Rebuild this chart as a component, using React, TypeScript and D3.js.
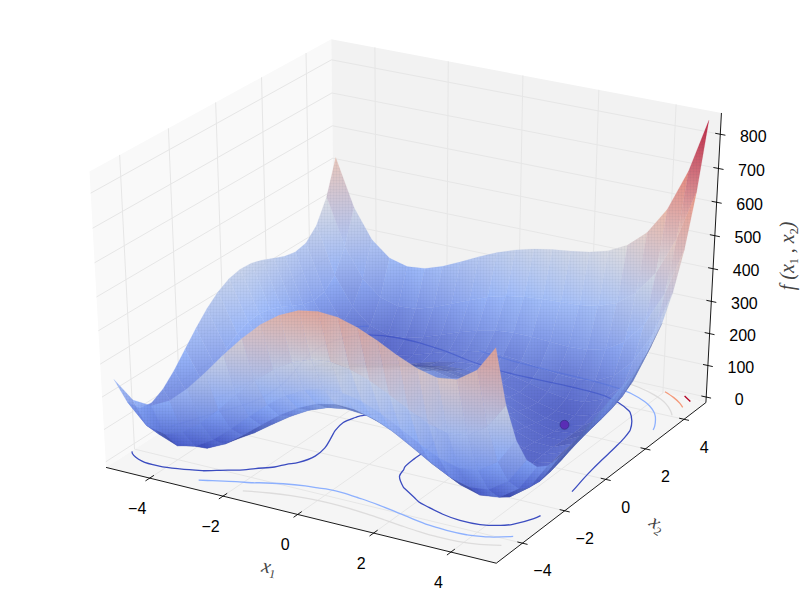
import React, { useEffect, useRef } from 'react';
import * as d3 from 'd3';

const x1Values = [-5, -4.5, -4, -3.5, -3, -2.5, -2, -1.5, -1, -0.5, 0, 0.5, 1, 1.5, 2, 2.5, 3, 3.5, 4, 4.5, 4.95];
const x2Values = [-5, -4.5, -4, -3.5, -3, -2.5, -2, -1.5, -1, -0.5, 0, 0.5, 1, 1.5, 2, 2.5, 3, 3.5, 4, 4.5, 4.95];

// surface heights, one row per x2 value (from -5 up to 4.95)
const surfaceRows = [
  [250, 200, 196, 224, 274, 335, 400, 461, 514, 554, 580, 590, 586, 569, 544, 515, 490, 476, 484, 524, 599],
  [158, 99, 86, 106, 147, 201, 259, 314, 360, 395, 416, 422, 413, 393, 365, 334, 306, 291, 298, 338, 412],
  [116, 48, 26, 38, 72, 119, 170, 219, 260, 290, 306, 308, 296, 273, 242, 209, 180, 164, 170, 210, 285],
  [110, 34, 4, 8, 35, 76, 121, 164, 200, 226, 238, 236, 221, 196, 163, 128, 98, 82, 88, 128, 204],
  [130, 45, 8, 5, 26, 60, 100, 138, 170, 191, 200, 195, 178, 150, 116, 80, 50, 33, 40, 81, 159],
  [165, 73, 29, 20, 34, 63, 98, 132, 159, 177, 183, 176, 156, 127, 92, 56, 25, 9, 17, 60, 139],
  [208, 109, 58, 43, 52, 76, 106, 136, 160, 175, 178, 169, 148, 118, 82, 46, 16, 1, 10, 55, 136],
  [251, 146, 89, 68, 72, 92, 118, 144, 165, 178, 179, 168, 146, 116, 80, 44, 15, 2, 13, 60, 144],
  [290, 178, 116, 90, 90, 105, 128, 151, 170, 180, 180, 168, 146, 115, 80, 45, 18, 6, 20, 70, 157],
  [320, 203, 136, 106, 101, 113, 133, 154, 170, 179, 178, 166, 143, 113, 79, 46, 20, 11, 28, 82, 172],
  [340, 218, 146, 112, 104, 113, 130, 149, 164, 172, 170, 158, 136, 107, 74, 43, 20, 14, 34, 92, 186],
  [348, 222, 146, 108, 97, 104, 119, 136, 150, 158, 156, 144, 123, 96, 65, 36, 16, 14, 38, 100, 199],
  [346, 215, 136, 95, 82, 86, 100, 116, 130, 137, 136, 125, 106, 80, 52, 26, 10, 11, 40, 107, 211],
  [335, 201, 119, 76, 60, 63, 76, 92, 105, 113, 113, 104, 86, 63, 38, 16, 3, 9, 43, 116, 225],
  [320, 183, 98, 53, 36, 38, 50, 66, 80, 89, 90, 83, 68, 48, 26, 8, 0, 11, 50, 129, 244],
  [305, 166, 79, 32, 14, 16, 28, 44, 59, 70, 73, 68, 56, 40, 22, 8, 5, 22, 67, 152, 274],
  [298, 156, 68, 20, 2, 3, 16, 33, 50, 62, 68, 66, 58, 45, 32, 23, 26, 48, 100, 192, 320],
  [306, 163, 74, 26, 7, 9, 23, 42, 60, 75, 84, 86, 81, 73, 65, 62, 70, 99, 158, 258, 393],
  [340, 196, 106, 58, 40, 43, 58, 79, 100, 118, 130, 136, 136, 133, 130, 133, 148, 184, 250, 358, 501],
  [410, 266, 176, 128, 111, 116, 133, 156, 180, 202, 218, 228, 233, 236, 239, 248, 270, 314, 388, 504, 655],
  [515, 371, 281, 234, 219, 225, 244, 270, 298, 323, 343, 358, 368, 375, 384, 400, 429, 479, 561, 686, 844],
];

const x1Ticks = [-4, -2, 0, 2, 4];
const x2Ticks = [-4, -2, 0, 2, 4];
const zTicks = [0, 100, 200, 300, 400, 500, 600, 700, 800];
const contourLevels = [150, 300, 450, 600, 750];
const contourColors = ['#3b4cc0', '#8db0fe', '#dddcdc', '#f49a7b', '#b40426'];
const coolwarmStops = ['#3b4cc0', '#8db0fe', '#dddcdc', '#f49a7b', '#b40426'];
const minimumPoint = [3, 2, 0];

const width = 800;
const height = 600;
const zMax = 844;

// matplotlib's default 3d view: elev 30, azim -60, dist 10
const dist = 10;
const n = [Math.cos(Math.PI / 6) * Math.cos(-Math.PI / 3), Math.cos(Math.PI / 6) * Math.sin(-Math.PI / 3), Math.sin(Math.PI / 6)];
const u = [-n[1] / Math.hypot(n[0], n[1]), n[0] / Math.hypot(n[0], n[1]), 0];
const v = [n[1] * u[2] - n[2] * u[1], n[2] * u[0] - n[0] * u[2], n[0] * u[1] - n[1] * u[0]];

const worldX = d3.scaleLinear().domain([-5, 4.95]).range([-0.5, 0.5]);
const worldY = d3.scaleLinear().domain([-5, 4.95]).range([-0.5, 0.5]);
const worldZ = d3.scaleLinear().domain([0, zMax]).range([-0.5, 0.5]);
const screenX = d3.scaleLinear().domain([-0.095, 0.09]).range([0, width]);
const screenY = d3.scaleLinear().domain([-0.095, 0.09]).range([height, 0]);
const heightColor = d3.scaleLinear<string>().domain([0, zMax * 0.25, zMax * 0.5, zMax * 0.75, zMax]).range(coolwarmStops).interpolate(d3.interpolateRgb);
const levelColor = d3.scaleOrdinal<number, string>().domain(contourLevels).range(contourColors);

const dot3 = (a: number[], b: number[]) => a[0] * b[0] + a[1] * b[1] + a[2] * b[2];

function project(x: number, y: number, z: number) {
  const d = [worldX(x), worldY(y), worldZ(z)];
  const depth = dist - dot3(n, d);
  return { px: screenX(dot3(u, d) / depth), py: screenY(dot3(v, d) / depth), depth };
}
const pt = (x: number, y: number, z: number): [number, number] => {
  const p = project(x, y, z);
  return [p.px, p.py];
};

// axis box is a bit larger than the data, the way mplot3d pads it
const xLo = -5 - 9.95 / 48, xHi = 4.95 + 9.95 / 48;
const yLo = -5 - 9.95 / 48, yHi = 4.95 + 9.95 / 48;
const zLo = -zMax / 48, zHi = zMax + zMax / 48;

export default function App() {
  const ref = useRef<SVGSVGElement>(null);

  useEffect(() => {
    const svg = d3.select(ref.current);
    svg.selectAll('*').remove();
    const defs = svg.append('defs');

    const poly = (pts: [number, number][], fill: string) =>
      svg.append('polygon').attr('points', pts.map(p => p.join(',')).join(' ')).attr('fill', fill);
    const seg = (a: [number, number], b: [number, number], color: string, w: number) =>
      svg.append('line').attr('x1', a[0]).attr('y1', a[1]).attr('x2', b[0]).attr('y2', b[1]).attr('stroke', color).attr('stroke-width', w);

    // panes
    poly([pt(xLo, yLo, zLo), pt(xLo, yHi, zLo), pt(xLo, yHi, zHi), pt(xLo, yLo, zHi)], '#f9f9f9');
    poly([pt(xLo, yHi, zLo), pt(xHi, yHi, zLo), pt(xHi, yHi, zHi), pt(xLo, yHi, zHi)], '#f2f2f2');
    poly([pt(xLo, yLo, zLo), pt(xHi, yLo, zLo), pt(xHi, yHi, zLo), pt(xLo, yHi, zLo)], '#f5f5f5');

    // grid
    const gridColor = '#e6e6e6';
    x1Ticks.forEach(t => {
      seg(pt(t, yLo, zLo), pt(t, yHi, zLo), gridColor, 1);
      seg(pt(t, yHi, zLo), pt(t, yHi, zHi), gridColor, 1);
    });
    x2Ticks.forEach(t => {
      seg(pt(xHi, t, zLo), pt(xLo, t, zLo), gridColor, 1);
      seg(pt(xLo, t, zLo), pt(xLo, t, zHi), gridColor, 1);
    });
    zTicks.forEach(t => {
      seg(pt(xLo, yLo, t), pt(xLo, yHi, t), gridColor, 1);
      seg(pt(xLo, yHi, t), pt(xHi, yHi, t), gridColor, 1);
    });

    // axis lines and ticks
    const ink = '#000';
    seg(pt(xLo, yLo, zLo), pt(xHi, yLo, zLo), ink, 0.9);
    seg(pt(xHi, yLo, zLo), pt(xHi, yHi, zLo), ink, 0.9);
    seg(pt(xHi, yHi, zLo), pt(xHi, yHi, zHi), ink, 0.9);

    const tickText = (p: [number, number], dx: number, dy: number, s: string) =>
      svg.append('text').attr('x', p[0] + dx).attr('y', p[1] + dy).attr('text-anchor', 'middle').attr('dy', '0.36em')
        .attr('font-family', '"Liberation Sans", Arial, sans-serif').attr('font-size', 16).attr('fill', '#000')
        .text(s.replace('-', '\u2212'));

    x1Ticks.forEach(t => {
      seg(pt(t, yLo - 0.18, zLo), pt(t, yLo + 0.18, zLo), ink, 0.9);
      tickText(pt(t, yLo, zLo), -12.5, 30, String(t));
    });
    x2Ticks.forEach(t => {
      seg(pt(xHi - 0.13, t, zLo), pt(xHi + 0.13, t, zLo), ink, 0.9);
      tickText(pt(xHi, t, zLo), 20, 27.5, String(t));
    });
    zTicks.forEach(t => {
      seg(pt(xHi - 0.13, yHi, t), pt(xHi + 0.13, yHi, t), ink, 0.9);
      tickText(pt(xHi, yHi, t), 33, 2, String(t));
    });

    // contour lines on the floor, traced on the typed grid
    const flat = surfaceRows.flat();
    const cols = x1Values.length, rows = x2Values.length;
    const gridX = d3.scaleLinear().domain(d3.range(cols).map(i => i + 0.5)).range(x1Values);
    const gridY = d3.scaleLinear().domain(d3.range(rows).map(i => i + 0.5)).range(x2Values);
    const contourLine = d3.line<[number, number]>().curve(d3.curveCatmullRom.alpha(0.5));
    const inside = (p: number[]) => p[0] >= 0.5 && p[0] <= cols - 0.5 && p[1] >= 0.5 && p[1] <= rows - 0.5;
    d3.contours().size([cols, rows]).thresholds(contourLevels)(flat).forEach(c => {
      c.coordinates.forEach(polygon => polygon.forEach(ring => {
        // drop the stretches that only run along the grid border
        let pieces: number[][][] = [[]];
        ring.forEach(p => {
          if (inside(p)) pieces[pieces.length - 1].push(p);
          else pieces.push([]);
        });
        if (pieces.length > 1 && inside(ring[0]) && inside(ring[ring.length - 1])) {
          const last = pieces.pop() as number[][];
          pieces[0] = last.concat(pieces[0].slice(1));
        }
        pieces.filter(s => s.length > 1).forEach(s => {
          svg.append('path')
            .attr('d', contourLine(s.map(p => pt(gridX(p[0]), gridY(p[1]), 0))))
            .attr('fill', 'none')
            .attr('stroke', levelColor(c.value))
            .attr('stroke-width', 1.3);
        });
      }));
    });

    // fine mesh texture laid over each facet
    const mesh = defs.append('pattern').attr('id', 'mesh').attr('patternUnits', 'userSpaceOnUse')
      .attr('width', 3).attr('height', 3);
    mesh.append('path').attr('d', 'M0,0H3M0,0V3').attr('stroke', '#23264f').attr('stroke-width', 0.7).attr('stroke-opacity', 0.1);

    // surface facets, far ones first
    const facets: { pts: [number, number][]; zs: number[]; depth: number }[] = [];
    for (let j = 0; j < rows - 1; j++) {
      for (let i = 0; i < cols - 1; i++) {
        const corners: [number, number][] = [[i, j], [i + 1, j], [i + 1, j + 1], [i, j + 1]];
        const zs = corners.map(c => surfaceRows[c[1]][c[0]]);
        const pts = corners.map((c, k) => pt(x1Values[c[0]], x2Values[c[1]], zs[k]));
        const depth = d3.mean(corners.map((c, k) => project(x1Values[c[0]], x2Values[c[1]], zs[k]).depth)) as number;
        facets.push({ pts, zs, depth });
      }
    }
    facets.sort((a, b) => b.depth - a.depth);
    const edgeOn = d3.scaleLinear().domain([0, 130]).range([0.55, 0]).clamp(true);
    facets.forEach((f, idx) => {
      const lo = d3.scan(f.zs) as number;
      const hi = d3.greatestIndex(f.zs);
      const id = `facet${idx}`;
      // facets seen nearly edge-on pack the reference's mesh tightly, so they read darker
      const dark = edgeOn(Math.abs(d3.polygonArea(f.pts)));
      const shade = (z: number) => d3.interpolateRgb(heightColor(z), '#20245f')(dark);
      const g = defs.append('linearGradient').attr('id', id).attr('gradientUnits', 'userSpaceOnUse')
        .attr('x1', f.pts[lo][0]).attr('y1', f.pts[lo][1]).attr('x2', f.pts[hi][0]).attr('y2', f.pts[hi][1]);
      g.append('stop').attr('offset', 0).attr('stop-color', shade(f.zs[lo]));
      g.append('stop').attr('offset', 1).attr('stop-color', shade(f.zs[hi]));
      const points = f.pts.map(p => p.join(',')).join(' ');
      svg.append('polygon')
        .attr('points', points)
        .attr('fill', `url(#${id})`)
        .attr('fill-opacity', 0.85)
        .attr('stroke', `url(#${id})`)
        .attr('stroke-width', 0.5)
        .attr('stroke-opacity', 0.35);
      svg.append('polygon').attr('points', points).attr('fill', 'url(#mesh)');
    });

    // the marked minimum
    const m = pt(minimumPoint[0], minimumPoint[1], minimumPoint[2]);
    svg.append('circle').attr('cx', m[0]).attr('cy', m[1]).attr('r', 4.5)
      .attr('fill', '#5a2db5').attr('stroke', '#2c2a7a').attr('stroke-width', 0.6);

    // axis labels
    const mathText = (p: [number, number], rot: number, parts: [string, boolean][]) => {
      const t = svg.append('text').attr('transform', `translate(${p[0]},${p[1]}) rotate(${rot})`)
        .attr('text-anchor', 'middle')
        .attr('font-family', '"Liberation Serif", "DejaVu Serif", serif').attr('font-style', 'italic')
        .attr('font-size', 20).attr('fill', '#444');
      parts.forEach(([s, sub], i) => {
        const span = t.append('tspan').text(s);
        if (sub) span.attr('font-size', 12).attr('dy', 4).attr('font-style', 'normal');
        else if (i > 0 && parts[i - 1][1]) span.attr('dy', -4);
      });
    };
    mathText([268, 573], 12, [['x', false], ['1', true]]);
    mathText([654, 529], 35, [['x', false], ['2', true]]);
    mathText([794, 256], -90, [['f (x', false], ['1', true], [' , x', false], ['2', true], [')', false]]);
  }, []);

  return <svg ref={ref} width={width} height={height} style={{ position: 'absolute', left: 0, top: 0 }} />;
}
